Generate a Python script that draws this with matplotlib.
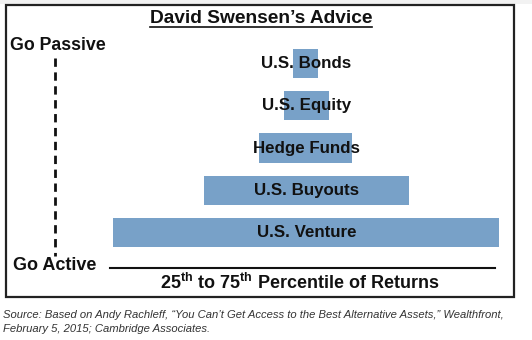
import matplotlib
matplotlib.use("Agg")
import matplotlib.pyplot as plt
from matplotlib.patches import Rectangle

plt.rcParams['font.family'] = ['Liberation Sans', 'DejaVu Sans']
plt.rcParams['mathtext.fontset'] = 'custom'
plt.rcParams['mathtext.rm'] = 'Liberation Sans'
plt.rcParams['mathtext.bf'] = 'Liberation Sans:bold'

# Asset classes, top (most passive) to bottom (most active)
categories = ["U.S. Bonds", "U.S. Equity", "Hedge Funds", "U.S. Buyouts", "U.S. Venture"]
# 25th and 75th percentile annual returns (%)
p25 = [7.0, 6.55, 5.3, 2.55, -2.0]
p75 = [8.25, 8.8, 9.95, 12.8, 17.3]

title = "David Swensen\u2019s Advice"
top_label = "Go Passive"
bottom_label = "Go Active"
axis_label = r"25$^{\mathbf{th}}$ to 75$^{\mathbf{th}}$ Percentile of Returns"
source = ("Source: Based on Andy Rachleff, \u201cYou Can\u2019t Get Access to the Best Alternative Assets,\u201d Wealthfront,\n"
          "February 5, 2015; Cambridge Associates.")

W, H = 532, 340
fig = plt.figure(figsize=(W / 100, H / 100), dpi=100)

# Overlay axes in pixel coordinates for frame and annotations
ov = fig.add_axes([0, 0, 1, 1])
ov.set_xlim(0, W)
ov.set_ylim(H, 0)
ov.axis("off")

# Bar axes: returns on x, category index on y
ax = fig.add_axes([0, 0, 1, 1])
ax.patch.set_alpha(0)
px_per_pct = 20.0
x0_px = 113 - (-2.0) * px_per_pct
ax.set_xlim((0 - x0_px) / px_per_pct, (W - x0_px) / px_per_pct)
row0, row_step = 63.5, 42.25
ax.set_ylim((H - row0) / row_step, (0 - row0) / row_step)
ax.axis("off")

ypos = list(range(len(categories)))
widths = [b - a for a, b in zip(p25, p75)]
ax.barh(ypos, widths, left=p25, height=0.69, color="#78a1c8", edgecolor="none", zorder=2)
label_x = (p25[0] + p75[0]) / 2 + 0.05
for y, name in zip(ypos, categories):
    ax.text(label_x, y, name, ha="center", va="center", fontsize=12.2,
            fontweight="bold", color="#111111", zorder=3)

# Light strip above the frame
ov.add_patch(Rectangle((0, 0), W, 4, color="#f2f2f2", lw=0))

# Frame
ov.add_patch(Rectangle((6, 5), 508, 292, fill=False, lw=1.6, edgecolor="#222222"))

# Title with underline
ov.text(261, 18.5, title, ha="center", va="center", fontsize=13.8, fontweight="bold", color="#111111")
ov.plot([150, 372], [27, 27], color="#111111", lw=1.2)

# Passive / active scale
ov.text(10, 45, top_label, ha="left", va="center", fontsize=12.8, fontweight="bold", color="#111111")
ov.plot([55, 55], [58, 256], color="#111111", lw=2, ls=(0, (3, 2)))
ov.text(13, 265, bottom_label, ha="left", va="center", fontsize=13, fontweight="bold", color="#111111")

# Returns axis
ov.plot([110, 495], [268, 268], color="#111111", lw=1.5)
ov.text(300, 283, axis_label, ha="center", va="center", fontsize=13, fontweight="bold", color="#111111")

# Source note
ov.text(3, 322, source, ha="left", va="center", fontsize=8.1, style="italic",
        color="#333333", linespacing=1.55)

fig.savefig("out.png", dpi=100)
